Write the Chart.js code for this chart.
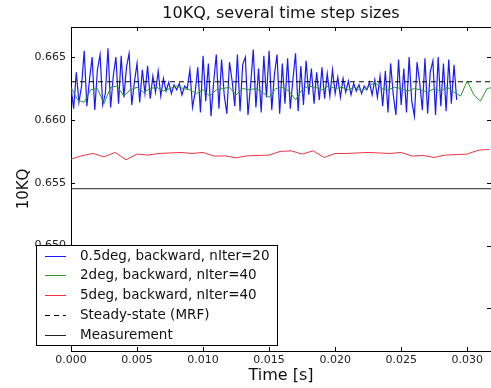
<!DOCTYPE html>
<html>
<head>
<meta charset="utf-8">
<script src="https://cdn.jsdelivr.net/npm/chart.js@4.4.1/dist/chart.umd.min.js"></script>
<style>
html, body { margin: 0; padding: 0; background: #fff; }
</style>
</head>
<body>
<canvas id="chartCanvas" width="491" height="388"></canvas>
<script>
// === Dados ===
const chartTitle = "10KQ, several time step sizes";
const xTitle = "Time [s]";
const yTitle = "10KQ";
const xTicks = [0.000, 0.005, 0.010, 0.015, 0.020, 0.025, 0.030];
const yTicks = [0.645, 0.650, 0.655, 0.660, 0.665];
const xMin = 0, xMax = 0.0318;
const yMin = 0.6416, yMax = 0.6674;

const labels = [
  "0.5deg, backward, nIter=20",
  "2deg, backward, nIter=40",
  "5deg, backward, nIter=40",
  "Steady-state (MRF)",
  "Measurement"
];
const colors = ["#1a1aff", "#2a962a", "#ee3344", "#000000", "#222222"];

// 0.5deg (um ponto a cada 0.0002 s)
const blueStep = 0.0002;
const blueValues = [
  0.6626, 0.6609, 0.6638, 0.6614, 0.6627, 0.6655, 0.6611, 0.6632, 0.6650, 0.6608,
  0.6640, 0.6652, 0.6612, 0.6621, 0.6657, 0.6610, 0.6635, 0.6650, 0.6613, 0.6651, 0.6618,
  0.6642, 0.6653, 0.6612, 0.6630, 0.6645, 0.6614, 0.6640, 0.6621, 0.6643, 0.6617,
  0.6635, 0.6622, 0.6639, 0.6619, 0.6633, 0.6623,
  0.6630, 0.6621, 0.6628, 0.6624, 0.6629, 0.6620, 0.6627, 0.6625,
  0.6640, 0.6610, 0.6622, 0.6642, 0.6606, 0.6651, 0.6615, 0.6645, 0.6603, 0.6630,
  0.6652, 0.6609, 0.6648, 0.6620, 0.6605, 0.6646, 0.6631, 0.6611, 0.6652, 0.6607,
  0.6644, 0.6650, 0.6604, 0.6628, 0.6656, 0.6610, 0.6641, 0.6606, 0.6651, 0.6618,
  0.6655, 0.6608, 0.6636, 0.6652, 0.6605, 0.6645, 0.6613, 0.6649, 0.6609, 0.6632,
  0.6653, 0.6607, 0.6643, 0.6612, 0.6647, 0.6620, 0.6641, 0.6613, 0.6638, 0.6616, 0.6642,
  0.6617, 0.6637, 0.6619, 0.6640, 0.6621, 0.6634, 0.6618, 0.6633, 0.6622, 0.6631,
  0.6620, 0.6629, 0.6623, 0.6628, 0.6621, 0.6627, 0.6624, 0.6630, 0.6620, 0.6632, 0.6618, 0.6635,
  0.6611, 0.6639, 0.6606, 0.6645, 0.6620, 0.6604, 0.6648, 0.6612, 0.6641, 0.6606,
  0.6650, 0.6615, 0.6603, 0.6646, 0.6630, 0.6608, 0.6649, 0.6605, 0.6638, 0.6647,
  0.6604, 0.6650, 0.6611, 0.6645, 0.6607, 0.6648, 0.6613, 0.6644, 0.6616
];

// 2deg
const greenStep = 0.0005;
const greenValues = [
  0.6626, 0.6616, 0.6614, 0.6624, 0.6625, 0.6613, 0.6626, 0.6627, 0.6619, 0.6624,
  0.6626, 0.6622, 0.6625, 0.6626, 0.6623, 0.6625, 0.6627, 0.6625, 0.6624, 0.6621,
  0.6624, 0.6619, 0.6624, 0.6625, 0.6626, 0.6620, 0.6625, 0.6624, 0.6625, 0.6622,
  0.6618, 0.6625, 0.6626, 0.6623, 0.6616, 0.6624, 0.6627, 0.6626, 0.6624, 0.6627,
  0.6625, 0.6626, 0.6624, 0.6626, 0.6623, 0.6626, 0.6630, 0.6625, 0.6624, 0.6626,
  0.6625, 0.6623, 0.6625, 0.6624, 0.6622, 0.6625, 0.6623, 0.6626, 0.6622, 0.6619,
  0.6631, 0.6620, 0.6615, 0.6625, 0.6626
];

// 5deg
const redStep = 0.0008333;
const redValues = [
  0.65688, 0.65715, 0.65733, 0.65706, 0.65741, 0.65683, 0.65728, 0.65720, 0.65733, 0.65737,
  0.65741, 0.65733, 0.65741, 0.65712, 0.65714, 0.65698, 0.65714, 0.65717, 0.65720, 0.65749,
  0.65754, 0.65728, 0.65754, 0.65701, 0.65733, 0.65733, 0.65737, 0.65741, 0.65737, 0.65733,
  0.65741, 0.65712, 0.65717, 0.65701, 0.65720, 0.65724, 0.65728, 0.65759, 0.65765
];

const steadyState = 0.66304;
const measurement = 0.65452;

const toPoints = (vals, step) => vals.map((v, i) => ({ x: i * step, y: v }));

const FONT = '"DejaVu Sans", sans-serif';

// === Título, marcas internas e legenda ===
const decorPlugin = {
  id: "decor",
  afterDraw(chart) {
    const { ctx, chartArea: a, scales: { x, y } } = chart;
    ctx.save();
    ctx.strokeStyle = "#000";
    ctx.lineWidth = 1;

    // borda superior
    ctx.beginPath();
    ctx.moveTo(a.left, a.top + 0.5);
    ctx.lineTo(a.right, a.top + 0.5);
    ctx.stroke();

    // marcas para dentro
    ctx.beginPath();
    xTicks.forEach(v => {
      const px = Math.round(x.getPixelForValue(v)) + 0.5;
      ctx.moveTo(px, a.bottom); ctx.lineTo(px, a.bottom - 4);
      ctx.moveTo(px, a.top); ctx.lineTo(px, a.top + 4);
    });
    yTicks.forEach(v => {
      const py = Math.round(y.getPixelForValue(v)) + 0.5;
      ctx.moveTo(a.left, py); ctx.lineTo(a.left + 4, py);
      ctx.moveTo(a.right, py); ctx.lineTo(a.right - 4, py);
    });
    ctx.stroke();

    // título
    ctx.fillStyle = "#111";
    ctx.font = "16px " + FONT;
    ctx.textAlign = "center";
    ctx.textBaseline = "middle";
    ctx.fillText(chartTitle, (a.left + a.right) / 2, 14);

    // legenda
    const bx = 36.5, by = 245.5, bw = 241, bh = 100;
    ctx.fillStyle = "#fff";
    ctx.fillRect(bx, by, bw, bh);
    ctx.strokeStyle = "#000";
    ctx.lineWidth = 1;
    ctx.strokeRect(bx, by, bw, bh);
    ctx.font = "13.5px " + FONT;
    ctx.textAlign = "left";
    labels.forEach((txt, i) => {
      const ry = Math.round(by + 10 + i * 19.8) + 0.5;
      ctx.strokeStyle = colors[i];
      ctx.lineWidth = 1;
      ctx.setLineDash(i === 3 ? [5, 4] : []);
      ctx.beginPath();
      ctx.moveTo(45, ry);
      ctx.lineTo(66, ry);
      ctx.stroke();
      ctx.setLineDash([]);
      ctx.fillStyle = "#111";
      ctx.fillText(txt, 80, ry);
    });
    ctx.restore();
  }
};

const chartInstance = new Chart(document.getElementById("chartCanvas"), {
  type: "line",
  data: {
    datasets: [
      { label: labels[0], data: toPoints(blueValues, blueStep), borderColor: colors[0], borderWidth: 1.2, order: 5 },
      { label: labels[1], data: toPoints(greenValues, greenStep), borderColor: colors[1], borderWidth: 1, order: 4 },
      { label: labels[2], data: toPoints(redValues, redStep), borderColor: colors[2], borderWidth: 1, order: 3 },
      { label: labels[3], data: [{ x: xMin, y: steadyState }, { x: xMax, y: steadyState }], borderColor: colors[3], borderWidth: 1, borderDash: [5, 4], order: 2 },
      { label: labels[4], data: [{ x: xMin, y: measurement }, { x: xMax, y: measurement }], borderColor: colors[4], borderWidth: 1, order: 1 }
    ]
  },
  options: {
    responsive: false,
    animation: false,
    layout: { padding: { top: 27, right: 0, bottom: 0, left: 0 } },
    elements: { point: { radius: 0 }, line: { tension: 0, fill: false } },
    plugins: {
      legend: { display: false },
      title: { display: false },
      tooltip: { enabled: false }
    },
    scales: {
      x: {
        type: "linear",
        min: xMin,
        max: xMax,
        afterBuildTicks: s => { s.ticks = xTicks.map(v => ({ value: v })); },
        afterFit: s => { s.height = 37; },
        grid: { display: false, drawTicks: false },
        border: { display: true, color: "#000", width: 1 },
        ticks: {
          padding: 3,
          maxRotation: 0,
          autoSkip: false,
          color: "#222",
          font: { family: FONT, size: 11 },
          callback: v => v.toFixed(3)
        },
        title: { display: true, text: xTitle, color: "#111", font: { family: FONT, size: 16 }, padding: { top: 0, bottom: 3 } }
      },
      y: {
        type: "linear",
        min: yMin,
        max: yMax,
        afterBuildTicks: s => { s.ticks = yTicks.map(v => ({ value: v })); },
        afterFit: s => { s.width = 71; },
        grid: { display: false, drawTicks: false },
        border: { display: true, color: "#000", width: 1 },
        ticks: {
          padding: 5,
          autoSkip: false,
          color: "#222",
          font: { family: FONT, size: 11 },
          // 0.645 fica escondido atrás da legenda
          callback: v => (v < 0.6475 ? "" : v.toFixed(3))
        },
        title: { display: true, text: yTitle, color: "#111", font: { family: FONT, size: 15 }, padding: { top: 15, bottom: 0 } }
      }
    }
  },
  plugins: [decorPlugin]
});
</script>
</body>
</html>
